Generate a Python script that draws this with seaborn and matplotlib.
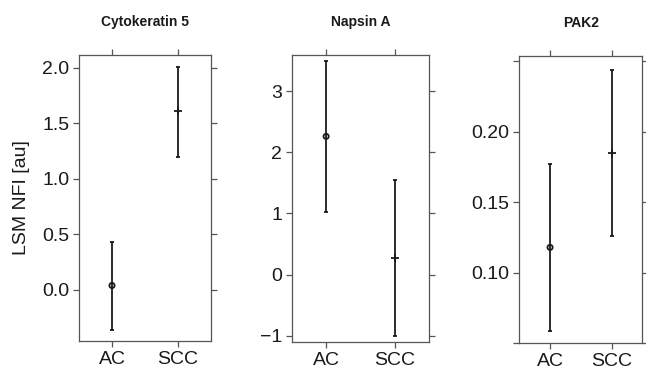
import numpy as np
import pandas as pd
import matplotlib
matplotlib.use("Agg")
import matplotlib.pyplot as plt
import seaborn as sns

categories = ["AC", "SCC"]
titles = ["Cytokeratin 5", "Napsin A", "PAK2"]
means = [[0.04, 1.61], [2.26, 0.27], [0.118, 0.185]]
lower = [[-0.36, 1.20], [1.02, -1.00], [0.059, 0.126]]
upper = [[0.43, 2.01], [3.50, 1.54], [0.177, 0.244]]
yticks = [[0.0, 0.5, 1.0, 1.5, 2.0], [-1, 0, 1, 2, 3], [0.05, 0.10, 0.15, 0.20, 0.25]]
yticklabels = [["0.0", "0.5", "1.0", "1.5", "2.0"], ["\u22121", "0", "1", "2", "3"],
               ["", "0.10", "0.15", "0.20", ""]]
ylims = [(-0.46, 2.117), (-1.10, 3.59), (0.05, 0.2537)]
markers = {"AC": "o", "SCC": "+"}

sns.set_theme(style="white")
plt.rcParams['font.family'] = ['Liberation Sans', 'DejaVu Sans']

fig = plt.figure(figsize=(6.46, 3.77), dpi=100)
rects = [
    [79/646, 36/377, 132/646, 286/377],
    [291.7/646, 35/377, 137.6/646, 287/377],
    [519.3/646, 33.7/377, 123/646, 287.3/377],
]
spine_col = "#555555"
ink = "#1a1a1a"
for i in range(3):
    ax = fig.add_axes(rects[i])
    df = pd.DataFrame({"group": pd.Categorical(categories, categories=categories),
                       "mean": means[i], "lo": lower[i], "hi": upper[i]})
    xpos = np.arange(len(categories))
    ax.errorbar(xpos, df["mean"], yerr=[df["mean"] - df["lo"], df["hi"] - df["mean"]],
                fmt="none", ecolor=ink, elinewidth=1.3, capsize=1.5, capthick=1.3, zorder=2)
    for g in categories:
        sub = df[df["group"] == g].copy()
        sub["x"] = categories.index(g)
        if markers[g] == "o":
            sns.scatterplot(data=sub, x="x", y="mean", marker="o", ax=ax, legend=False,
                            s=14, facecolor="none", edgecolor=ink, linewidth=1.3, zorder=3)
        else:
            sns.scatterplot(data=sub, x="x", y="mean", marker="+", ax=ax, legend=False,
                            s=30, color=ink, linewidth=1.3, zorder=3)
    ax.set_xlim(-0.5, 1.5)
    ax.set_ylim(*ylims[i])
    ax.set_xticks(xpos)
    ax.set_xticklabels(categories)
    ax.set_yticks(yticks[i])
    ax.set_yticklabels(yticklabels[i])
    ax.set_xlabel("")
    ax.set_ylabel("LSM NFI [au]" if i == 0 else "", fontsize=14, color=ink, labelpad=9)
    ax.set_title(titles[i], fontsize=10, fontweight="bold", pad=21, color=ink)
    ax.tick_params(axis="both", which="both", direction="out", length=4, width=0.9,
                   color=spine_col, labelsize=14, labelcolor=ink, pad=3,
                   top=True, right=True, bottom=True, left=True)
    for sp in ax.spines.values():
        sp.set_color(spine_col)
        sp.set_linewidth(0.9)
    ax.grid(False)

fig.savefig("out.png", dpi=100)
